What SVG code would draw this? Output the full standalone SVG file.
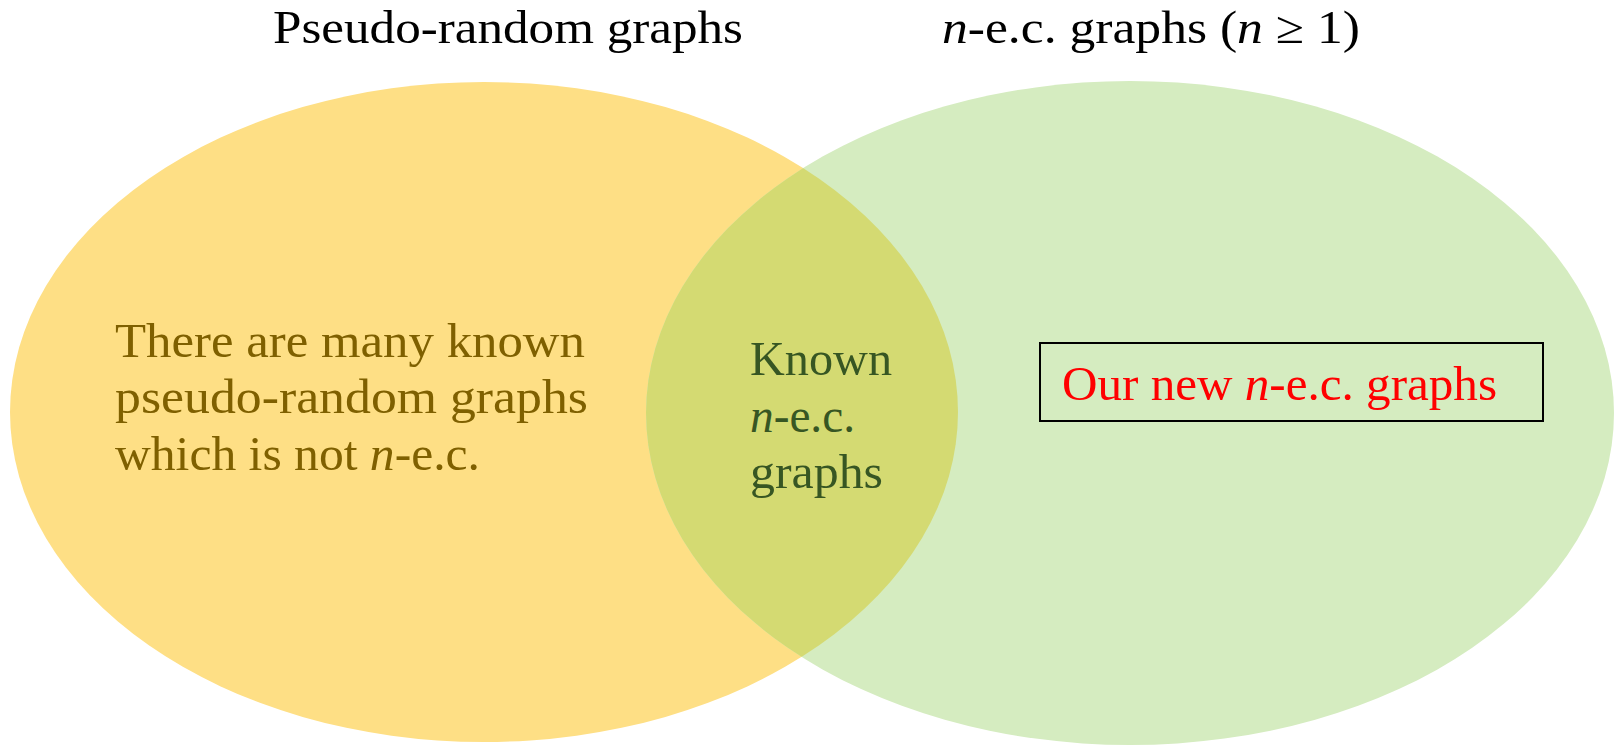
<svg xmlns="http://www.w3.org/2000/svg" width="1615" height="745" viewBox="0 0 1615 745">
  <defs>
    <clipPath id="clip-left">
      <ellipse cx="484" cy="412" rx="474" ry="330"/>
    </clipPath>
    <style>
      .t { font-family: "Liberation Serif", "Times New Roman", serif; }
      .title { font-size: 46px; fill: #000000; }
      .body { font-size: 48px; }
      .gold { fill: #7F6000; }
      .green { fill: #375623; }
      .red { fill: #FF0000; }
      .it { font-style: italic; }
    </style>
  </defs>

  <rect width="1615" height="745" fill="#FFFFFF"/>

  <!-- Set: pseudo-random graphs -->
  <g id="set-pseudo-random">
    <ellipse cx="484" cy="412" rx="474" ry="330" fill="#FEDF85"/>
  </g>

  <!-- Set: n-e.c. graphs -->
  <g id="set-nec">
    <ellipse cx="1130" cy="413" rx="484" ry="332" fill="#D5ECC0"/>
  </g>

  <!-- Intersection of the two sets -->
  <g id="set-intersection">
    <ellipse cx="1130" cy="413" rx="484" ry="332" fill="#D4DA72" clip-path="url(#clip-left)"/>
  </g>

  <!-- Set titles -->
  <g id="title-pseudo-random">
    <text class="t title" x="273" y="43" textLength="470" lengthAdjust="spacingAndGlyphs">Pseudo-random graphs</text>
  </g>
  <g id="title-nec">
    <text class="t title" x="942" y="43" textLength="418" lengthAdjust="spacingAndGlyphs"><tspan class="it">n</tspan>-e.c. graphs (<tspan class="it">n</tspan> ≥ 1)</text>
  </g>

  <!-- Region labels -->
  <g id="label-left">
    <text class="t body gold" x="115" y="357" textLength="470" lengthAdjust="spacingAndGlyphs">There are many known</text>
    <text class="t body gold" x="115" y="413" textLength="473" lengthAdjust="spacingAndGlyphs">pseudo-random graphs</text>
    <text class="t body gold" x="115" y="470" textLength="365" lengthAdjust="spacingAndGlyphs">which is not <tspan class="it">n</tspan>-e.c.</text>
  </g>

  <g id="label-middle">
    <text class="t body green" x="750" y="375" textLength="142" lengthAdjust="spacingAndGlyphs">Known</text>
    <text class="t body green" x="750" y="432" textLength="105" lengthAdjust="spacingAndGlyphs"><tspan class="it">n</tspan>-e.c.</text>
    <text class="t body green" x="750" y="488" textLength="133" lengthAdjust="spacingAndGlyphs">graphs</text>
  </g>

  <g id="label-new">
    <rect x="1040" y="343" width="503" height="78" fill="none" stroke="#000000" stroke-width="2"/>
    <text class="t body red" x="1062" y="400" textLength="435" lengthAdjust="spacingAndGlyphs">Our new <tspan class="it">n</tspan>-e.c. graphs</text>
  </g>

  <!-- No connectors in this diagram -->
  <g id="connectors"/>
</svg>
